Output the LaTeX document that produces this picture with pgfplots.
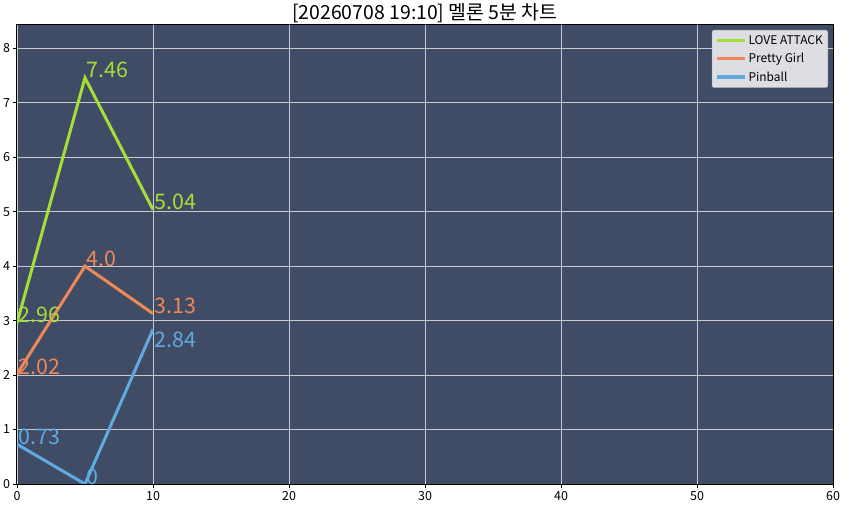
\documentclass[border=0pt]{standalone}
\usepackage{fontspec}
\setmainfont{Noto Sans CJK KR}
\usepackage{pgfplots}
\pgfplotsset{compat=1.18}
\definecolor{bgcol}{RGB}{64,76,102}
\definecolor{gridcol}{RGB}{200,202,208}
\definecolor{cgreen}{RGB}{166,222,56}
\definecolor{corange}{RGB}{238,136,86}
\definecolor{cblue}{RGB}{96,170,224}
\definecolor{legfill}{RGB}{220,222,228}
\pgfplotsset{
  lab/.style={line width=3bp,
    visualization depends on={\thisrow{dy} \as \dy},
    nodes near coords style={text=#1, anchor=base west, inner sep=0pt,
      yshift=\dy bp, font=\fontsize{21.5}{24}\selectfont}},
}
\begin{document}
\begin{tikzpicture}
\begin{axis}[
    width=816bp, height=459bp, scale only axis,
    xmin=0, xmax=60, ymin=0, ymax=8.43,
    xtick={0,10,...,60}, ytick={0,1,...,8},
    tick pos=left, tick align=outside,
    major tick length=3.5bp,
    tick style={black, line width=0.8bp},
    axis line style={black, line width=1bp},
    grid=major, grid style={gridcol, line width=0.8bp},
    axis background/.style={fill=bgcol},
    /pgf/number format/assume math mode=true,
    ticklabel style={font=\fontsize{12.5}{14}\selectfont},
    title={[20260708 19:10] 멜론 5분 차트},
    title style={font=\fontsize{19.5}{22}\selectfont, at={(0.5,1)}, anchor=base,
      inner sep=0pt},
    legend style={at={(1,1)}, anchor=north east, xshift=-5bp, yshift=-5bp,
      fill=legfill, draw=gray!70, rounded corners=2bp,
      font=\fontsize{12}{14}\selectfont, row sep=3.5bp, inner sep=3bp},
    legend cell align=left,
    legend image code/.code={\draw[#1, line width=3.5bp] (0bp,0bp) -- (28bp,0bp);},
    nodes near coords,
    point meta=explicit symbolic,
]
\addplot[cgreen, lab=cgreen] table[meta=lab] {
x y lab dy
0 2.96 2.96 0
5 7.46 7.46 0
10 5.04 5.04 0
};
\addlegendentry{LOVE ATTACK}
\addplot[corange, lab=corange] table[meta=lab] {
x y lab dy
0 2.02 2.02 0
5 4.0 4.0 0
10 3.13 3.13 0
};
\addlegendentry{Pretty Girl}
\addplot[cblue, lab=cblue] table[meta=lab] {
x y lab dy
0 0.73 0.73 0
5 0 0 0
10 2.84 2.84 -18.5
};
\addlegendentry{Pinball}
\coordinate (ll) at (rel axis cs:0,0);
\coordinate (ur) at (rel axis cs:1,1);
\end{axis}
\pgfresetboundingbox
\path[use as bounding box] ([xshift=-17bp,yshift=-25bp]ll) rectangle ([xshift=17bp,yshift=25bp]ur);
\end{tikzpicture}
\end{document}
